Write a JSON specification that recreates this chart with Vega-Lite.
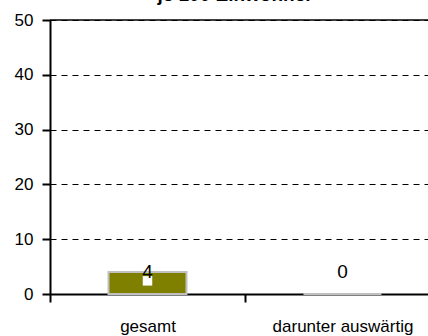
{
  "$schema": "https://vega.github.io/schema/vega-lite/v6.json",
  "autosize": "none",
  "padding": {"left": 50, "top": 20, "right": 0, "bottom": 42},
  "width": 378,
  "height": 274,
  "background": "white",
  "title": {"text": "je 100 Einwohner", "font": "Liberation Sans", "fontSize": 19, "fontWeight": "bold", "color": "black", "offset": 6, "anchor": "middle", "frame": "group", "dx": -4},
  "config": {"view": {"stroke": null}, "font": "Liberation Sans"},
  "data": {"values": [
    {"kategorie": "gesamt", "wert": 4, "marker": 2.4},
    {"kategorie": "darunter auswärtig", "wert": 0, "marker": null}
  ]},
  "encoding": {
    "x": {"field": "kategorie", "type": "nominal", "sort": null,
      "scale": {"range": [0, 390], "paddingInner": 0, "paddingOuter": 0},
      "axis": {"title": null, "labelAngle": 0, "labelFontSize": 17, "labelColor": "black", "labelPadding": 16,
        "domainColor": "black", "domainWidth": 2, "tickColor": "black", "tickWidth": 2, "tickSize": 8, "tickBand": "extent", "grid": false}}
  },
  "layer": [
    {
      "mark": {"type": "bar", "color": "#808000", "stroke": "#c0c0c0", "strokeWidth": 2, "width": {"band": 0.4}},
      "encoding": {
        "y": {"field": "wert", "type": "quantitative",
          "scale": {"domain": [0, 50], "nice": false},
          "axis": {"title": null, "values": [0, 10, 20, 30, 40, 50], "labelFontSize": 17, "labelColor": "black", "labelPadding": 9,
            "domainColor": "black", "domainWidth": 2, "tickColor": "black", "tickWidth": 2, "tickSize": 8,
            "grid": true, "gridColor": "black", "gridDash": [6, 5], "gridWidth": 1}}
      }
    },
    {
      "mark": {"type": "rule", "color": "black", "strokeWidth": 1},
      "encoding": {"y": {"datum": 50}, "x": null}
    },
    {
      "mark": {"type": "point", "shape": "square", "filled": true, "color": "white", "size": 90, "opacity": 1},
      "encoding": {"y": {"field": "marker", "type": "quantitative"}}
    },
    {
      "mark": {"type": "text", "fontSize": 19, "color": "black", "baseline": "middle"},
      "encoding": {"y": {"datum": 4}, "text": {"field": "wert", "type": "quantitative"}}
    }
  ]
}
